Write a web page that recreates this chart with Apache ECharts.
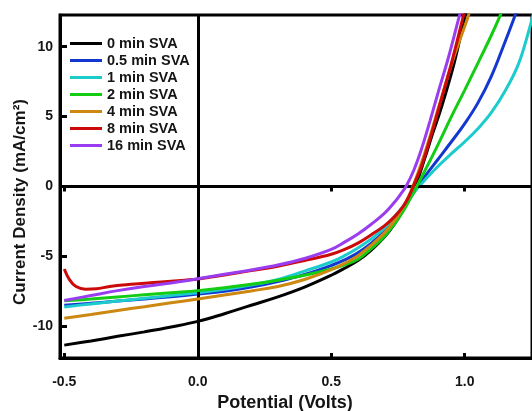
<!DOCTYPE html>
<html><head><meta charset="utf-8">
<script src="https://cdn.jsdelivr.net/npm/echarts@6/dist/echarts.min.js"></script>
<style>html,body{margin:0;padding:0;background:#fff}#c{width:532px;height:411px}</style>
</head><body><div id="c"></div>
<script>
const names = ['0 min SVA','0.5 min SVA','1 min SVA','2 min SVA','4 min SVA','8 min SVA','16 min SVA'];
const colors = ['#000000','#1437d0','#1ccccc','#14cc14','#cc8810','#cc0a0a','#9a3cf0'];
const xTicks = [-0.5, 0, 0.5, 1.0];
const yTicks = [-10, -5, 0, 5, 10];

// 0 min SVA
const v0 = [-0.5,-0.4,-0.3,-0.2,-0.1,0,0.1,0.2,0.3,0.4,0.5,0.55,0.6,0.65,0.7,0.74,0.77,0.795,0.82,0.85,0.88,0.91,0.96,1.0,1.01];
const j0 = [-11.35,-11.05,-10.72,-10.4,-10.05,-9.65,-9.1,-8.5,-7.9,-7.2,-6.35,-5.85,-5.3,-4.55,-3.6,-2.6,-1.65,-0.7,0.3,2.0,3.8,5.5,8.8,12.1,12.8];
// 0.5 min SVA
const v1 = [-0.5,-0.4,-0.3,-0.2,-0.1,0,0.1,0.2,0.3,0.4,0.5,0.55,0.6,0.65,0.7,0.74,0.77,0.795,0.82,0.85,0.9,0.95,1.0,1.05,1.1,1.148,1.185,1.2];
const j1 = [-8.5,-8.35,-8.2,-8.05,-7.88,-7.7,-7.5,-7.2,-6.8,-6.3,-5.65,-5.25,-4.75,-4.05,-3.2,-2.35,-1.6,-0.85,-0.1,0.7,1.95,3.2,4.5,6.0,7.9,10.2,12.06,12.9];
// 1 min SVA
const v2 = [-0.5,-0.4,-0.3,-0.2,-0.1,0,0.1,0.2,0.3,0.4,0.5,0.55,0.6,0.65,0.7,0.74,0.77,0.795,0.82,0.85,0.9,0.95,1.0,1.05,1.1,1.15,1.2,1.241,1.26];
const j2 = [-8.62,-8.4,-8.2,-8.0,-7.8,-7.6,-7.35,-7.05,-6.65,-6.05,-5.4,-4.95,-4.4,-3.75,-2.95,-2.1,-1.4,-0.8,-0.2,0.45,1.45,2.35,3.2,4.15,5.3,6.8,8.7,11.2,12.6];
// 2 min SVA
const v3 = [-0.5,-0.4,-0.3,-0.2,-0.1,0,0.1,0.2,0.3,0.4,0.5,0.55,0.6,0.65,0.7,0.74,0.77,0.795,0.82,0.85,0.9,0.95,1.0,1.05,1.098,1.129,1.14];
const j3 = [-8.18,-8.05,-7.9,-7.75,-7.6,-7.45,-7.25,-7.0,-6.7,-6.35,-5.9,-5.6,-5.2,-4.45,-3.55,-2.6,-1.75,-0.9,0,1.1,3.0,5.0,6.9,8.85,10.75,12.06,12.6];
// 4 min SVA
const v4 = [-0.5,-0.4,-0.3,-0.2,-0.1,0,0.1,0.2,0.3,0.4,0.5,0.55,0.6,0.65,0.7,0.74,0.77,0.79,0.81,0.84,0.87,0.9,0.955,1.011,1.02];
const j4 = [-9.43,-9.15,-8.87,-8.6,-8.32,-8.05,-7.76,-7.47,-7.15,-6.65,-5.95,-5.5,-4.95,-4.2,-3.3,-2.35,-1.45,-0.7,0.2,1.8,3.6,5.55,9.0,12.06,12.6];
// 8 min SVA
const v5 = [-0.5,-0.48,-0.456,-0.42,-0.38,-0.33,-0.25,-0.15,-0.05,0,0.1,0.2,0.3,0.4,0.5,0.55,0.6,0.65,0.7,0.74,0.77,0.79,0.81,0.837,0.87,0.9,0.95,0.993,1.0];
const j5 = [-5.9,-6.68,-7.16,-7.35,-7.32,-7.15,-7.0,-6.85,-6.7,-6.62,-6.33,-6.02,-5.7,-5.3,-4.85,-4.5,-4.05,-3.45,-2.8,-2.1,-1.4,-0.75,0.15,1.4,3.4,5.4,8.8,12.06,12.6];
// 16 min SVA
const v6 = [-0.5,-0.4,-0.3,-0.2,-0.1,0,0.1,0.2,0.3,0.4,0.5,0.55,0.6,0.65,0.7,0.74,0.76,0.78,0.81,0.84,0.87,0.9,0.94,0.978,0.99];
const j6 = [-8.15,-7.8,-7.45,-7.15,-6.9,-6.6,-6.28,-5.97,-5.62,-5.15,-4.5,-3.98,-3.4,-2.7,-1.91,-1.05,-0.55,0,1.2,2.8,4.7,6.7,9.3,12.06,12.9];

const V = [v0,v1,v2,v3,v4,v5,v6];
const J = [j0,j1,j2,j3,j4,j5,j6];

const FONT = 'Liberation Sans, Arial, sans-serif';
const chart = echarts.init(document.getElementById('c'), null, {renderer:'canvas'});

const series = names.map((n,i)=>{
  const s = {
    name:n, type:'line', smooth:0.4, showSymbol:false, symbol:'none',
    data: V[i].map((v,k)=>[v, J[i][k]]),
    lineStyle:{color:colors[i], width:3}, itemStyle:{color:colors[i]},
    clip:true, z: 2+i, animation:false
  };
  if(i===0){
    s.markLine = {silent:true, symbol:'none', animation:false, label:{show:false},
      lineStyle:{color:'#000', width:3, type:'solid'},
      data:[{yAxis:0},{xAxis:0}]};
  }
  return s;
});

chart.setOption({
  animation:false,
  grid:{left:60, top:15, right:-3, bottom:53, show:true, borderColor:'#000', borderWidth:3, backgroundColor:'transparent'},
  xAxis:[{type:'value', min:-0.516, max:1.252,
    axisLine:{show:true, onZero:false, lineStyle:{color:'#000', width:3}},
    axisTick:{show:true, inside:true, length:5, customValues:xTicks, lineStyle:{color:'#000', width:3}},
    axisLabel:{customValues:xTicks, margin:17, color:'#151515', fontWeight:'bold', fontSize:14, fontFamily:FONT,
      formatter:v=>v.toFixed(1)},
    splitLine:{show:false}},
   {type:'value', min:-0.516, max:1.252, position:'bottom',
    axisLine:{show:false},
    axisTick:{show:true, inside:false, length:5, customValues:xTicks, lineStyle:{color:'#000', width:3}},
    axisLabel:{show:false}, splitLine:{show:false}}],
  yAxis:{type:'value', min:-12.27, max:12.27,
    axisLine:{show:true, onZero:false, lineStyle:{color:'#000', width:3}},
    axisTick:{show:true, inside:true, length:7, customValues:yTicks, lineStyle:{color:'#000', width:3}},
    axisLabel:{customValues:yTicks, margin:7, color:'#151515', fontWeight:'bold', fontSize:14, fontFamily:FONT,
      formatter:v=>String(Math.round(v))},
    splitLine:{show:false}},
  legend:{orient:'vertical', left:70, top:35, padding:0, itemWidth:32, itemHeight:3, itemGap:0, icon:'rect',
    textStyle:{fontWeight:'bold', fontSize:14.5, fontFamily:FONT, color:'#151515', lineHeight:17},
    data:names},
  graphic:[
    {type:'text', x:20, y:202, rotation:Math.PI/2,
      style:{text:'Current Density (mA/cm²)', font:'bold 17px '+FONT, fill:'#151515', textAlign:'center', textVerticalAlign:'middle'}},
    {type:'text', x:285, y:403,
      style:{text:'Potential (Volts)', font:'bold 18px '+FONT, fill:'#151515', textAlign:'center', textVerticalAlign:'middle'}}
  ],
  series
});
</script></body></html>
